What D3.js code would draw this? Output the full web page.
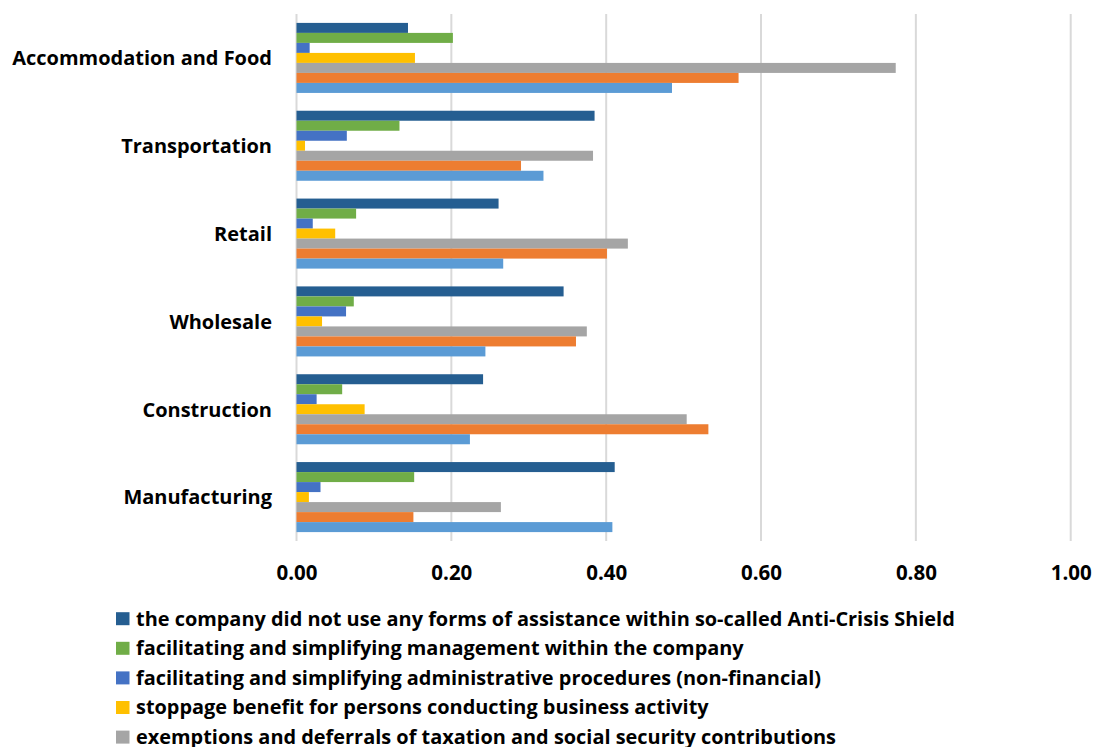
<!DOCTYPE html>
<html>
<head>
<meta charset="utf-8">
<script src="https://cdn.jsdelivr.net/npm/d3@7"></script>
<style>
  html, body { margin: 0; padding: 0; background: #fff; overflow: hidden; }
  text { font-family: "Open Sans", "Noto Sans", sans-serif; font-weight: 700; fill: #000; }
</style>
</head>
<body>
<svg id="chart" width="1094" height="747"></svg>
<script>
// ---- data ----
const categories = ["Accommodation and Food", "Transportation", "Retail", "Wholesale", "Construction", "Manufacturing"];

const seriesNames = [
  "the company did not use any forms of assistance within so-called Anti-Crisis Shield",
  "facilitating and simplifying management within the company",
  "facilitating and simplifying administrative procedures (non-financial)",
  "stoppage benefit for persons conducting business activity",
  "exemptions and deferrals of taxation and social security contributions",
  "series 6",
  "series 7"
];
// legend entries visible in the picture (the rest fall below the frame)
const legendLabels = seriesNames.slice(0, 5);

const seriesColors = ["#255e91", "#70ad47", "#4472c4", "#ffc000", "#a5a5a5", "#ed7d31", "#5b9bd5"];

// values per series, in category order
const noAssistance   = [0.144, 0.385, 0.261, 0.345, 0.241, 0.411];
const mgmtSimplify   = [0.202, 0.133, 0.077, 0.074, 0.059, 0.152];
const adminSimplify  = [0.017, 0.065, 0.021, 0.064, 0.026, 0.031];
const stoppageBenef  = [0.153, 0.011, 0.050, 0.033, 0.088, 0.016];
const taxExemptions  = [0.774, 0.383, 0.428, 0.375, 0.504, 0.264];
const series6Values  = [0.571, 0.290, 0.401, 0.361, 0.532, 0.151];
const series7Values  = [0.485, 0.319, 0.267, 0.244, 0.224, 0.408];

const seriesValues = [noAssistance, mgmtSimplify, adminSimplify, stoppageBenef, taxExemptions, series6Values, series7Values];

const tickValues = [0, 0.2, 0.4, 0.6, 0.8, 1.0];

// ---- layout ----
const svg = d3.select("#chart");
const x = d3.scaleLinear().domain([0, 1]).range([296.5, 1070.7]);
const y = d3.scaleBand().domain(categories).range([14, 541]).padding(0);
const ySeries = d3.scaleBand().domain(d3.range(seriesNames.length))
  .range([0, y.bandwidth()]).paddingInner(0).paddingOuter(0.89);

// gridlines
svg.append("g").selectAll("line").data(tickValues).join("line")
  .attr("x1", d => x(d)).attr("x2", d => x(d))
  .attr("y1", 14).attr("y2", 541)
  .attr("stroke", "#d9d9d9").attr("stroke-width", 2);

// bars
const groups = svg.append("g").selectAll("g").data(categories).join("g")
  .attr("transform", c => `translate(0,${y(c)})`);
groups.selectAll("rect")
  .data((c, ci) => seriesValues.map((vals, si) => ({ si, v: vals[ci] })))
  .join("rect")
  .attr("x", x(0))
  .attr("y", d => ySeries(d.si))
  .attr("width", d => x(d.v) - x(0))
  .attr("height", ySeries.bandwidth())
  .attr("fill", d => seriesColors[d.si]);

// helper to fit a font size to a target width
function fitSize(sample, target, base) {
  const t = svg.append("text").attr("font-size", base).text(sample);
  const w = t.node().getComputedTextLength();
  t.remove();
  return base * target / w;
}

// x axis tick labels
const xAxis = d3.axisBottom(x).tickValues(tickValues).tickFormat(d3.format(".2f")).tickSize(0);
const tickSize = fitSize("0.00", 41, 20);
const gx = svg.append("g").attr("transform", "translate(0,565)").call(xAxis);
gx.select(".domain").remove();
gx.selectAll("text").attr("font-size", tickSize).attr("font-family", "Open Sans, sans-serif")
  .attr("font-weight", 700).attr("fill", "#000").attr("dy", "0.71em").attr("y", 0);

// category labels
const yAxis = d3.axisLeft(y).tickSize(0).tickPadding(0);
const catSize = fitSize("Accommodation and Food", 260, 20);
const gy = svg.append("g").attr("transform", "translate(272,1)").call(yAxis);
gy.select(".domain").remove();
gy.selectAll("text").attr("font-size", catSize).attr("font-family", "Open Sans, sans-serif")
  .attr("font-weight", 700).attr("fill", "#000");

// legend
const legSize = fitSize(legendLabels[0], 819, 20);
const leg = svg.append("g").selectAll("g").data(legendLabels).join("g")
  .attr("transform", (d, i) => `translate(116,${618.7 + i * 29.6})`);
leg.append("rect").attr("x", 0).attr("y", -6.5).attr("width", 13.5).attr("height", 13)
  .attr("fill", (d, i) => seriesColors[i]);
leg.append("text").attr("x", 20).attr("dy", "0.35em").attr("font-size", legSize).text(d => d);
</script>
</body>
</html>
